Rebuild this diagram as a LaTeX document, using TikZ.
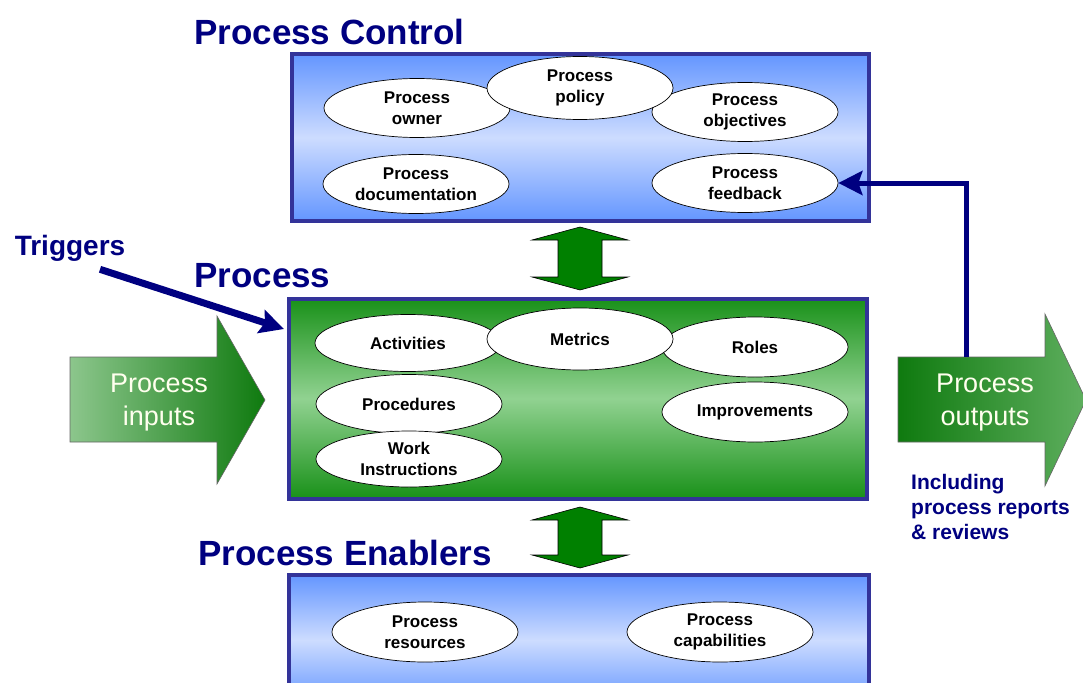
\documentclass[tikz,border=0pt]{standalone}
\usepackage{fontspec}
\setmainfont{Liberation Sans}
\usetikzlibrary{shapes.geometric,arrows.meta}

\definecolor{titleblue}{RGB}{0,0,128}
\definecolor{framecol}{RGB}{51,51,153}
\definecolor{ctrlblue}{RGB}{100,150,255}
\definecolor{ctrllight}{RGB}{205,220,255}
\definecolor{procgreen}{RGB}{25,145,25}
\definecolor{proclight}{RGB}{145,210,145}
\definecolor{dgreen}{RGB}{0,128,0}
\definecolor{arrdark}{RGB}{15,122,15}
\definecolor{arrlight}{RGB}{140,198,140}
\definecolor{arrmid}{RGB}{95,175,95}
\definecolor{txtwhite}{RGB}{255,255,238}

\tikzset{
  title/.style={anchor=base west, inner sep=0pt, text=titleblue,
    font=\fontsize{35}{40}\selectfont\bfseries},
  layer/.style={rectangle, draw=framecol, line width=4pt, inner sep=0pt},
  ctrlbox/.style={layer, top color=ctrlblue, bottom color=ctrlblue, middle color=ctrllight},
  procbox/.style={layer, top color=procgreen, bottom color=procgreen, middle color=proclight},
  oval/.style={ellipse, draw=black, line width=0.7pt, fill=white, inner sep=0pt,
    minimum width=186pt, minimum height=59pt, align=center,
    font=\fontsize{17}{21}\selectfont\bfseries},
  updown/.style={fill=dgreen, draw=black, line width=0.6pt},
  bigtxt/.style={align=center, inner sep=0pt, text=txtwhite,
    font=\fontsize{27}{33}\selectfont},
  navyline/.style={draw=titleblue, -{Stealth[length=24pt,width=24pt,inset=4pt]}},
  note/.style={align=left, inner sep=0pt, text=titleblue,
    font=\fontsize{21}{25}\selectfont\bfseries}
}

\begin{document}
\begin{tikzpicture}[x=1pt,y=-1pt]
\useasboundingbox (0,0) rectangle (1083,682);

% the three layers
\node[ctrlbox, minimum width=577pt, minimum height=166pt] (ctrl) at (580,137.5) {};
\node[procbox, minimum width=578pt, minimum height=200pt] (proc) at (577.5,398.5) {};
\node[ctrlbox, minimum width=580pt, minimum height=130pt] (enab) at (578.5,640) {};

\node[title] (tctrl) at (194,45) {Process Control};
\node[title] (tproc) at (194,287) {Process};
\node[title] (tenab) at (198,565) {Process Enablers};

% control
\node[oval] (owner) at (417,108) {Process\\owner};
\node[oval] (obj) at (745,112) {Process\\objectives};
\node[oval, minimum height=63pt] (policy) at (580,88) {Process\\policy};
\node[oval] (doc) at (416,184) {Process\\documentation};
\node[oval] (fb) at (745,183) {Process\\feedback};

% process
\node[oval, minimum height=57pt] (act) at (408,343) {Activities};
\node[oval, minimum height=60pt] (roles) at (755,347) {Roles};
\node[oval, minimum height=62pt] (metrics) at (580,339) {Metrics};
\node[oval] (procd) at (409,404) {Procedures};
\node[oval, minimum height=56pt] (work) at (409,459) {Work\\Instructions};
\node[oval, minimum height=60pt] (impr) at (755,412) {Improvements};

% enablers
\node[oval, minimum height=60pt] (res) at (425,632) {Process\\resources};
\node[oval, minimum height=60pt] (cap) at (720,632) {Process\\capabilities};

% up/down arrows between layers
\foreach \ya/\yb in {227/290,507/568}
  \draw[updown] (580,\ya) -- (628,\ya+13) -- (602,\ya+13) -- (602,\yb-13)
    -- (628,\yb-13) -- (580,\yb) -- (532,\yb-13) -- (558,\yb-13)
    -- (558,\ya+13) -- (532,\ya+13) -- cycle;

% inputs and outputs
\draw[draw=black!60, line width=0.6pt, left color=arrlight, right color=arrdark]
  (70,357) -- (217,357) -- (217,316) -- (265,400) -- (217,484) -- (217,442) -- (70,442) -- cycle;
\node[bigtxt] (inp) at (159,403) {Process\\inputs};
\draw[draw=black!60, line width=0.6pt, left color=arrdark, right color=arrmid]
  (898,357) -- (1045,357) -- (1045,314) -- (1086,400) -- (1045,486) -- (1045,442) -- (898,442) -- cycle;
\node[bigtxt] (outp) at (985,403) {Process\\outputs};

% feedback and triggers
\coordinate (fbfoot) at (966,357);
\draw[navyline, line width=5pt] (fbfoot) |- (fb.east);

\node[note, font=\fontsize{28}{32}\selectfont\bfseries] (trig) at (70,248) {Triggers};
\coordinate (trigtip) at (284,329);
\draw[navyline, line width=7pt] ([xshift=30pt,yshift=-8pt]trig.south) -- (trigtip);

\node[note, anchor=north west] (incl) at (911,474) {Including\\process reports\\\& reviews};
\end{tikzpicture}
\end{document}
